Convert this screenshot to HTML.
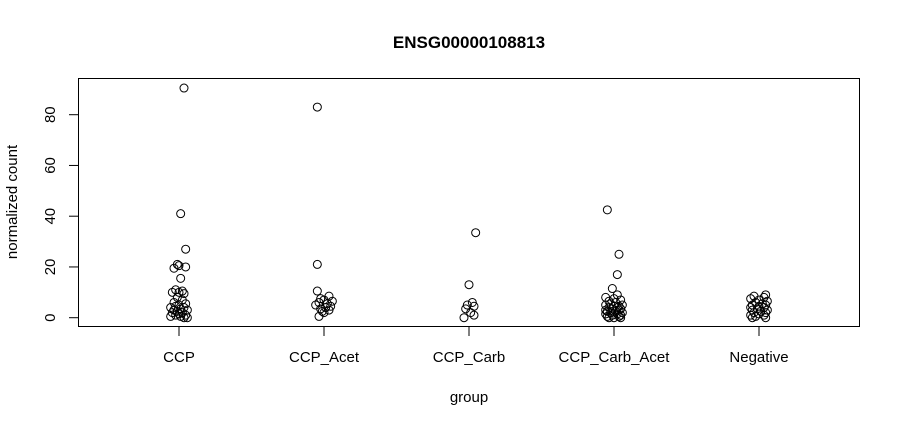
<!DOCTYPE html>
<html><head><meta charset="utf-8"><style>
body{margin:0;background:#fff;}
svg text{font-family:"Liberation Sans",Arial,sans-serif;fill:#000;}
</style></head><body>
<svg id="chart" width="900" height="425" xmlns="http://www.w3.org/2000/svg">
<text x="469" y="48" text-anchor="middle" font-size="17" font-weight="bold">ENSG00000108813</text>
<text x="469" y="402" text-anchor="middle" font-size="15">group</text>
<text transform="translate(17,202) rotate(-90)" text-anchor="middle" font-size="15">normalized count</text>
<rect x="78.5" y="78.5" width="781" height="248" fill="none" stroke="#000" stroke-width="1"/>
<g id="axes"></g>
<g id="points"></g>
</svg>
<script>
const categories = ["CCP","CCP_Acet","CCP_Carb","CCP_Carb_Acet","Negative"];
const yTicks = [0,20,40,60,80];
const valsCCP = [90.5,41,27,21,20.5,20,19.5,15.5,11,10.5,10,10,9.5,8,7,6,5.5,5,4.5,4,4,3.5,3,3,2.5,2,2,1.5,1,1,0.5,0.5,0,0];
const jitCCP = [0.03,0.01,0.04,-0.01,0.0,0.04,-0.03,0.01,-0.02,0.02,-0.04,0.0,0.03,-0.01,0.02,-0.03,0.04,0.0,-0.02,0.03,-0.05,0.01,-0.03,0.05,-0.01,0.02,-0.04,0.0,0.04,-0.02,0.01,-0.05,0.05,0.03];
const valsAcet = [83,21,10.5,8.5,7.5,7,6.5,6,5.5,5,4.5,4,3.5,3,2.5,2,0.5];
const jitAcet = [-0.04,-0.04,-0.04,0.03,-0.02,0.0,0.05,-0.03,0.02,-0.05,0.04,0.01,-0.02,0.03,-0.01,0.0,-0.03];
const valsCarb = [33.5,13,6,5,4.5,3.5,2,1,0];
const jitCarb = [0.04,0.0,0.02,-0.01,0.03,-0.02,0.01,0.03,-0.03];
const valsCarbAcet = [42.5,25,17,11.5,9,8,7.5,7,6.5,6,5.5,5,5,4.5,4.5,4,4,3.5,3.5,3,3,2.5,2.5,2,2,1.5,1.5,1,1,0.5,0.5,0,0,0];
const jitCarbAcet = [-0.04,0.03,0.02,-0.01,0.02,-0.05,0.0,0.04,-0.03,0.01,-0.02,0.05,-0.05,0.03,0.0,-0.03,0.02,0.04,-0.01,-0.05,0.03,0.01,-0.04,0.05,-0.02,0.02,-0.05,0.04,-0.01,0.03,-0.04,0.0,0.04,-0.03];
const valsNeg = [9,8.5,8,7.5,7,6.5,6,5.5,5,5,4.5,4,4,3.5,3,3,2.5,2,2,1.5,1,1,0.5,0,0];
const jitNeg = [0.04,-0.03,0.03,-0.05,0.0,0.05,-0.02,0.02,-0.04,0.04,0.0,-0.05,0.03,-0.01,0.05,-0.04,0.01,-0.03,0.04,0.0,-0.05,0.03,-0.02,-0.04,0.04];
const seriesVals = [valsCCP,valsAcet,valsCarb,valsCarbAcet,valsNeg];
const seriesJit = [jitCCP,jitAcet,jitCarb,jitCarbAcet,jitNeg];

const NS = "http://www.w3.org/2000/svg";
const xScale = i => 179 + 145 * i;
const yScale = v => 317.7 - v * (203 / 80);
const axes = document.getElementById('axes');
const pts = document.getElementById('points');
function mk(tag, attrs, parent){const e=document.createElementNS(NS,tag);for(const k in attrs)e.setAttribute(k,attrs[k]);parent.appendChild(e);return e;}

const yl = mk('line',{x1:78.5,x2:78.5,y1:yScale(0),y2:yScale(80),stroke:'#000'},axes);


yTicks.forEach(t=>{
  const y = yScale(t);
  const l = mk('line',{x1:69,x2:78.5,y1:y,y2:y,stroke:'#000'},axes);
  
  
  const tx = mk('text',{transform:`translate(55,${y}) rotate(-90)`,'text-anchor':'middle','font-size':'15'},axes);
  tx.textContent = t;
  
  
});
const xl = mk('line',{x1:xScale(0),x2:xScale(4),y1:326.5,y2:326.5,stroke:'#000'},axes);


categories.forEach((c,i)=>{
  const x = xScale(i);
  const l = mk('line',{x1:x,x2:x,y1:326.5,y2:336,stroke:'#000'},axes);
  
  
  const tx = mk('text',{x:x,y:362,'text-anchor':'middle','font-size':'15'},axes);
  tx.textContent = c;
  
  
});
seriesVals.forEach((vals,g)=>{
  vals.forEach((v,k)=>{
    const c = mk('circle',{cx:xScale(g + seriesJit[g][k]*1.15),cy:yScale(v),r:4,fill:'none',stroke:'#000','stroke-width':1},pts);
    
    
  });
});
</script>
</body></html>
